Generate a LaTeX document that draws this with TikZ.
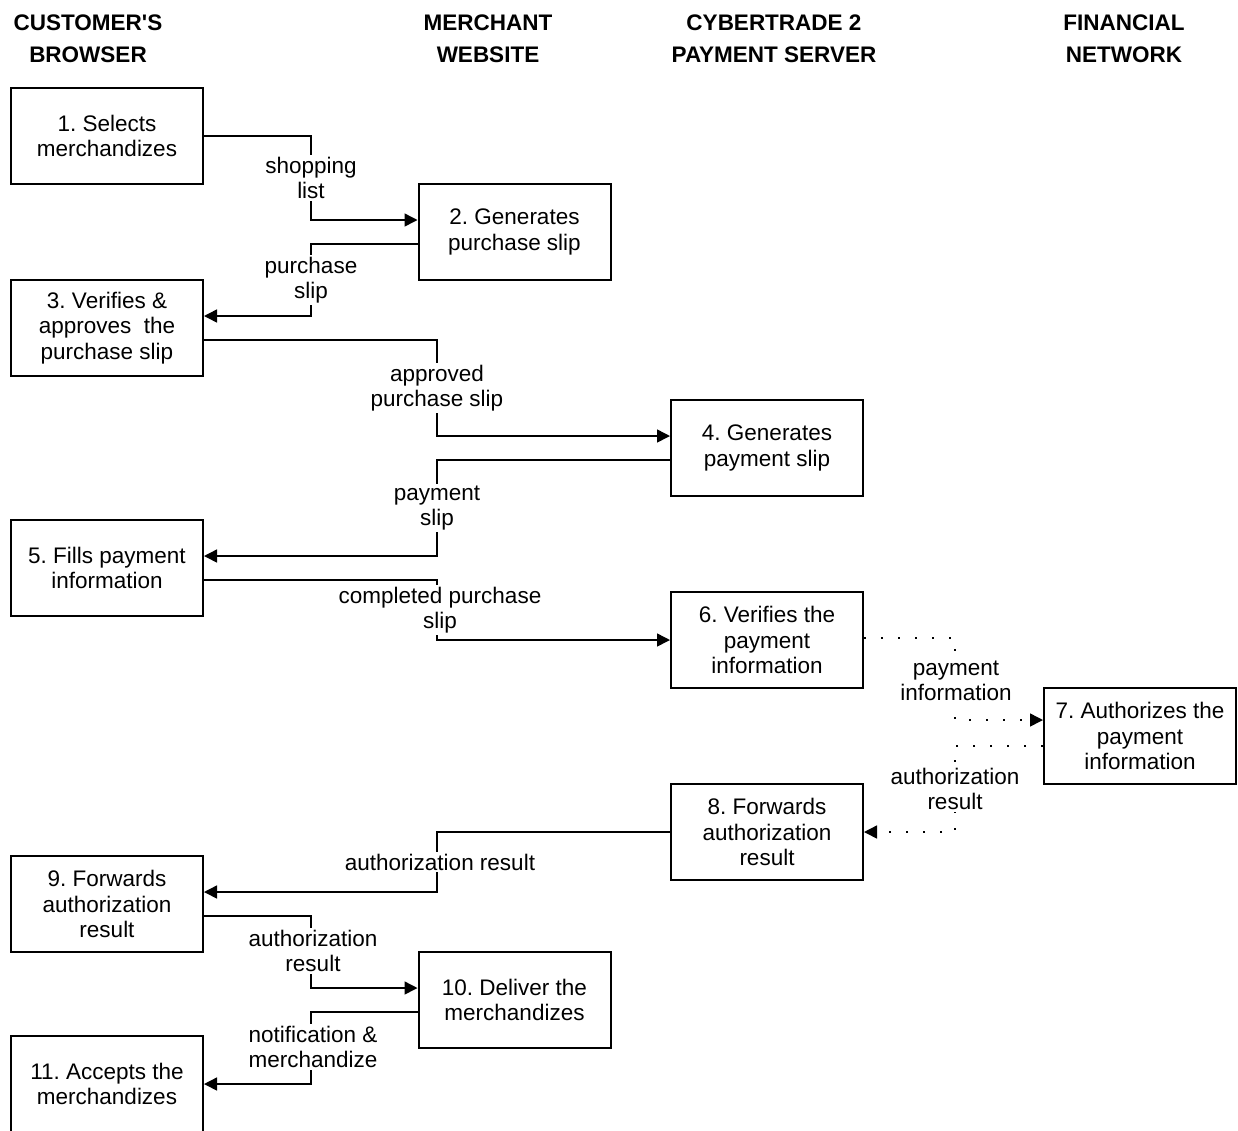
\documentclass[tikz,border=0pt]{standalone}
\usepackage{fontspec}
\setmainfont{Liberation Sans}
\usetikzlibrary{arrows.meta}
\frenchspacing
\begin{document}
\begin{tikzpicture}[x=1pt,y=-1pt,
  box/.style={draw,line width=2pt,minimum width=192pt,minimum height=96pt,inner sep=0pt,align=center,font=\fontsize{22.5}{25.5}\selectfont},
  hdr/.style={align=center,font=\bfseries\fontsize{22.5}{32}\selectfont,inner sep=0pt},
  lbl/.style={fill=white,align=center,inner sep=2pt,font=\fontsize{22.5}{25.5}\selectfont},
  conn/.style={line width=1.5pt,-{Triangle[length=13pt,width=13pt]}},
  dconn/.style={line width=1.5pt,dash pattern=on 2pt off 15pt,-{Triangle[length=13pt,width=13pt]}},
  plain/.style={line width=1.5pt}]
\useasboundingbox (0,0) rectangle (1238,1130);
% headers
\node[hdr] (h1) at (88,39) {CUSTOMER\textquotesingle S\\BROWSER};
\node[hdr] (h2) at (488,39) {MERCHANT\\WEBSITE};
\node[hdr] (h3) at (774,39) {CYBERTRADE 2\\PAYMENT SERVER};
\node[hdr] (h4) at (1124,39) {FINANCIAL\\NETWORK};
% boxes
\node[box] (b1) at (107,136) {1. Selects\\merchandizes};
\node[box] (b2) at (514.5,232) {2. Generates\\purchase slip};
\node[box] (b3) at (107,328) {3. Verifies \&\\approves~ the\\purchase slip};
\node[box] (b4) at (767,448) {4. Generates\\payment slip};
\node[box] (b5) at (107,568) {5. Fills payment\\information};
\node[box] (b6) at (767,640) {6. Verifies the\\payment\\information};
\node[box] (b7) at (1140,736) {7. Authorizes the\\payment\\information};
\node[box] (b8) at (767,832) {8. Forwards\\authorization\\result};
\node[box] (b9) at (107,904) {9. Forwards\\authorization\\result};
\node[box] (b10) at (514.5,1000) {10. Deliver the\\merchandizes};
\node[box] (b11) at (107,1084) {11. Accepts the\\merchandizes};
% connectors
\draw[conn] (b1.east |- 0,136) -- (311,136) -- (311,220) -- (b2.west |- 0,220);
\node[lbl] (l1) at (311,178) {shopping\\list};
\draw[conn] (b2.west |- 0,244) -- (311,244) -- (311,316) -- (b3.east |- 0,316);
\node[lbl] (l2) at (311,280) {purchase\\slip};
\draw[conn] (b3.east |- 0,340) -- (437,340) -- (437,436) -- (b4.west |- 0,436);
\node[lbl] (l3) at (437,388) {approved\\purchase slip};
\draw[conn] (b4.west |- 0,460) -- (437,460) -- (437,556) -- (b5.east |- 0,556);
\node[lbl] (l4) at (437,508) {payment\\slip};
\draw[conn] (b5.east |- 0,580) -- (437,580) -- (437,640) -- (b6.west |- 0,640);
\node[lbl] (l5) at (440,610) {completed purchase\\slip};
\draw[dconn] (b6.east |- 0,638) -- (955,638) -- (955,720) -- (b7.west |- 0,720);
\node[lbl] (l6) at (956,681) {payment\\information};
\draw[dconn] (b7.west |- 0,746) -- (955,746) -- (955,832) -- (b8.east |- 0,832);
\node[lbl] (l7) at (955,789) {authorization\\result};
\draw[conn] (b8.west |- 0,832) -- (437,832) -- (437,892) -- (b9.east |- 0,892);
\node[lbl] (l8) at (440,862) {authorization result};
\draw[conn] (b9.east |- 0,916) -- (311,916) -- (311,988) -- (b10.west |- 0,988);
\node[lbl] (l9) at (313,951) {authorization\\result};
\draw[conn] (b10.west |- 0,1012) -- (311,1012) -- (311,1084) -- (b11.east |- 0,1084);
\node[lbl] (l10) at (313,1047) {notification \&\\merchandize};
\end{tikzpicture}
\end{document}
